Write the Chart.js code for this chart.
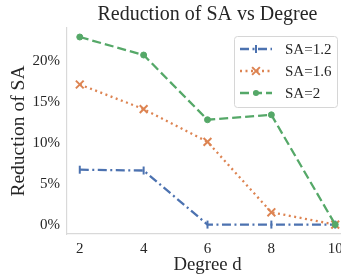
<!DOCTYPE html>
<html>
<head>
<meta charset="utf-8">
<script src="https://cdn.jsdelivr.net/npm/chart.js@4/dist/chart.umd.min.js"></script>
<style>
  html, body { margin: 0; padding: 0; background: #fff; overflow: hidden; }
  #wrap { width: 370px; height: 279px; }
</style>
</head>
<body>
<div id="wrap"><canvas id="c" width="370" height="279" style="width:370px;height:279px"></canvas></div>
<script>
const degrees = [2, 4, 6, 8, 10];
const sa12 = [6.7, 6.6, 0, 0, 0];
const sa16 = [17.1, 14.1, 10.1, 1.5, 0];
const sa20 = [22.9, 20.7, 12.8, 13.4, 0];
const xTicks = [2, 4, 6, 8, 10];
const yTicks = [0, 5, 10, 15, 20];
const seriesNames = ['SA=1.2', 'SA=1.6', 'SA=2'];

const BLUE = '#4c72b0', ORANGE = '#dd8452', GREEN = '#55a868';
const SERIF = '"Liberation Serif", "Times New Roman", serif';

function pts(vals) { return degrees.map((d, i) => ({ x: d, y: vals[i] })); }

const LW = 2.3;
const styles = [
  { color: BLUE, dash: [9, 3.5, 2, 3.5], pointStyle: 'line', radius: 4, rot: 90, pbw: 2 },
  { color: ORANGE, dash: [2, 3.5], pointStyle: 'crossRot', radius: 5.5, rot: 0, pbw: 2 },
  { color: GREEN, dash: [9, 4], pointStyle: 'circle', radius: 3, rot: 0, pbw: 1 }
];

const datasets = [sa12, sa16, sa20].map((vals, i) => ({
  label: seriesNames[i],
  data: pts(vals),
  borderColor: styles[i].color,
  backgroundColor: styles[i].color,
  borderWidth: LW,
  borderDash: styles[i].dash,
  pointStyle: styles[i].pointStyle,
  pointRadius: styles[i].radius,
  pointRotation: styles[i].rot,
  pointBorderWidth: styles[i].pbw,
  pointBorderColor: styles[i].color,
  pointBackgroundColor: styles[i].color,
  tension: 0,
  fill: false,
  order: 2 - i
}));

const legendPlugin = {
  id: 'customLegend',
  afterDraw(chart) {
    const ctx = chart.ctx;
    const ca = chart.chartArea;
    const right = ca.right - 11;
    const w = 103, h = 71;
    const left = right - w, top = ca.top + 8;
    ctx.save();
    ctx.beginPath();
    if (ctx.roundRect) ctx.roundRect(left + 0.5, top + 0.5, w, h, 3); else ctx.rect(left + 0.5, top + 0.5, w, h);
    ctx.fillStyle = 'rgba(255,255,255,0.85)';
    ctx.fill();
    ctx.strokeStyle = '#d6d6d6';
    ctx.lineWidth = 1;
    ctx.stroke();
    const rows = [top + 13, top + 35, top + 57];
    ctx.font = '15px ' + SERIF;
    ctx.textBaseline = 'middle';
    ctx.textAlign = 'left';
    seriesNames.forEach((name, i) => {
      const s = styles[i];
      const y = rows[i];
      const x0 = left + 6, x1 = left + 38;
      ctx.strokeStyle = s.color;
      ctx.lineWidth = LW;
      ctx.setLineDash(s.dash);
      ctx.beginPath(); ctx.moveTo(x0, y); ctx.lineTo(x1, y); ctx.stroke();
      ctx.setLineDash([]);
      const xm = (x0 + x1) / 2;
      ctx.fillStyle = s.color;
      ctx.strokeStyle = s.color;
      ctx.lineWidth = s.pbw;
      if (s.pointStyle === 'circle') { ctx.beginPath(); ctx.arc(xm, y, s.radius, 0, Math.PI * 2); ctx.fill(); }
      else if (s.pointStyle === 'line') { ctx.beginPath(); ctx.moveTo(xm, y - s.radius); ctx.lineTo(xm, y + s.radius); ctx.stroke(); }
      else { const d = s.radius * 0.707; ctx.beginPath(); ctx.moveTo(xm - d, y - d); ctx.lineTo(xm + d, y + d); ctx.moveTo(xm - d, y + d); ctx.lineTo(xm + d, y - d); ctx.stroke(); }
      ctx.fillStyle = '#262626';
      ctx.fillText(name, left + 51, y + 1);
    });
    ctx.restore();
  }
};

new Chart(document.getElementById('c'), {
  type: 'line',
  data: { datasets },
  options: {
    responsive: false,
    animation: false,
    layout: { padding: { left: 0, right: 22, top: 0, bottom: 0 } },
    plugins: {
      legend: { display: false },
      tooltip: { enabled: false },
      title: {
        display: true,
        text: 'Reduction of SA vs Degree',
        fullSize: false,
        color: '#262626',
        font: { family: SERIF, size: 20, weight: 'normal', lineHeight: 1.2 },
        padding: { top: 3, bottom: 1 }
      }
    },
    scales: {
      x: {
        type: 'linear',
        min: 1.6, max: 10.4,
        afterBuildTicks(s) { s.ticks = xTicks.map(v => ({ value: v })); },
        afterFit(s) { s.height = 45; },
        grid: { display: false, drawTicks: false },
        border: { display: true, color: '#d9d9d9', width: 1.2 },
        ticks: { color: '#262626', font: { family: SERIF, size: 15 }, padding: 6, maxRotation: 0 },
        title: { display: true, text: 'Degree d', color: '#262626', font: { family: SERIF, size: 18.75 }, padding: { top: 0, bottom: 3 } }
      },
      y: {
        type: 'linear',
        min: -1.15, max: 24.0,
        afterBuildTicks(s) { s.ticks = yTicks.map(v => ({ value: v })); },
        afterFit(s) { s.width = 67; },
        grid: { display: false, drawTicks: false },
        border: { display: true, color: '#d9d9d9', width: 1.2 },
        ticks: { color: '#262626', font: { family: SERIF, size: 15 }, padding: 7, callback: v => v + '%' },
        title: { display: true, text: 'Reduction of SA', color: '#262626', font: { family: SERIF, size: 19.5 }, padding: { top: 7, bottom: 0 } }
      }
    }
  },
  plugins: [legendPlugin]
});
</script>
</body>
</html>
